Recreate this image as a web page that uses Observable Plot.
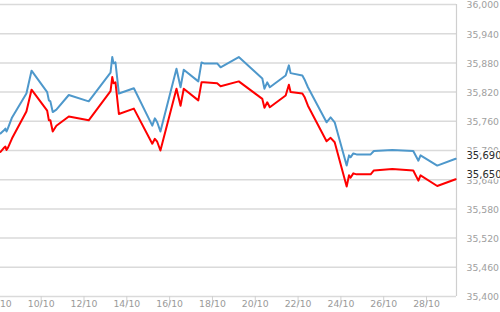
<!DOCTYPE html>
<html><head><meta charset="utf-8">
<script src="https://cdn.jsdelivr.net/npm/d3@7"></script>
<script src="https://cdn.jsdelivr.net/npm/@observablehq/plot@0.6"></script>
<style>body{margin:0;background:#fff;} #chart svg{display:block;}</style>
</head><body><div id="chart"></div>
<script>
// fractional day of October
const days = [8.10, 8.25, 8.33, 8.38, 8.44, 8.64, 9.31, 9.55, 10.28, 10.36, 10.43, 10.54, 10.71, 11.29, 12.22, 13.24, 13.32, 13.38, 13.47, 13.63, 14.33, 15.19, 15.31, 15.42, 15.57, 16.32, 16.51, 16.66, 17.34, 17.49, 17.60, 18.22, 18.38, 19.23, 20.33, 20.43, 20.56, 20.68, 21.42, 21.57, 21.65, 22.20, 22.30, 22.46, 23.33, 23.52, 23.71, 24.27, 24.38, 24.45, 24.58, 24.73, 25.39, 25.54, 26.40, 27.38, 27.62, 27.72, 28.50, 29.36];
const upper = [35735, 35741, 35745, 35739, 35745, 35768, 35817, 35864, 35820, 35803, 35801, 35779, 35784, 35814, 35801, 35860, 35892, 35879, 35881, 35817, 35828, 35751, 35766, 35758, 35739, 35868, 35830, 35866, 35842, 35881, 35879, 35879, 35871, 35892, 35848, 35827, 35840, 35830, 35854, 35875, 35859, 35854, 35846, 35830, 35758, 35768, 35758, 35669, 35690, 35686, 35694, 35692, 35692, 35699, 35701, 35699, 35679, 35690, 35669, 35683];
const lower = [35697, 35705, 35708, 35701, 35705, 35725, 35780, 35825, 35782, 35762, 35762, 35739, 35751, 35770, 35762, 35822, 35851, 35838, 35840, 35775, 35786, 35714, 35724, 35718, 35700, 35827, 35792, 35827, 35803, 35840, 35840, 35838, 35832, 35842, 35806, 35788, 35799, 35789, 35813, 35835, 35820, 35817, 35810, 35792, 35719, 35726, 35717, 35626, 35649, 35644, 35653, 35651, 35651, 35659, 35662, 35659, 35638, 35649, 35627, 35641];
const yTicks = [35400, 35460, 35520, 35580, 35640, 35700, 35760, 35820, 35880, 35940, 36000];
const xTickDays = [8, 10, 12, 14, 16, 18, 20, 22, 24, 26, 28];
const lastLabels = [35690, 35650];

const toDate = d => new Date(Date.UTC(2019, 9, 1) + (d - 1) * 864e5);
const rows = days.map((d, i) => ({date: toDate(d), upper: upper[i], lower: lower[i]}));
const xEnd = toDate(29.4);
const xTicks = xTickDays.map(toDate);

const plot = Plot.plot({
  width: 500, height: 312,
  marginLeft: 0, marginRight: 44, marginTop: 4, marginBottom: 16,
  style: {fontFamily: "DejaVu Sans", fontSize: "9.3px", background: "#fff", overflow: "visible"},
  x: {type: "utc", domain: [toDate(8.1), xEnd]},
  y: {domain: [35400, 36000]},
  marks: [
    Plot.ruleY(yTicks, {stroke: "#dadada", strokeWidth: 1.5}),
    Plot.ruleX([xEnd], {stroke: "#cfcfcf", strokeWidth: 1.2}),
    Plot.axisX(xTicks, {tickSize: 9, tickFormat: () => "", stroke: "#d0d0d0", label: null}),
    Plot.axisX(xTicks, {tickSize: 0, tickPadding: 4, tickFormat: d3.utcFormat("%d/%m"), fill: "#9a9a9a", label: null}),
    Plot.axisY(yTicks, {anchor: "right", tickSize: 0, tickPadding: 10, dy: 1, tickFormat: d3.format(","), fill: "#a0a0a0", label: null}),
    Plot.lineY(rows, {x: "date", y: "upper", stroke: "#4e98cb", strokeWidth: 2}),
    Plot.lineY(rows, {x: "date", y: "lower", stroke: "#ff0000", strokeWidth: 2}),
    Plot.text(lastLabels, {x: () => xEnd, y: d => d, text: d3.format(","), dx: 10, textAnchor: "start", fill: "#2a2a2a", stroke: "white", strokeWidth: 3, fontSize: 10})
  ]
});
document.getElementById("chart").appendChild(plot);
</script>
</body></html>
